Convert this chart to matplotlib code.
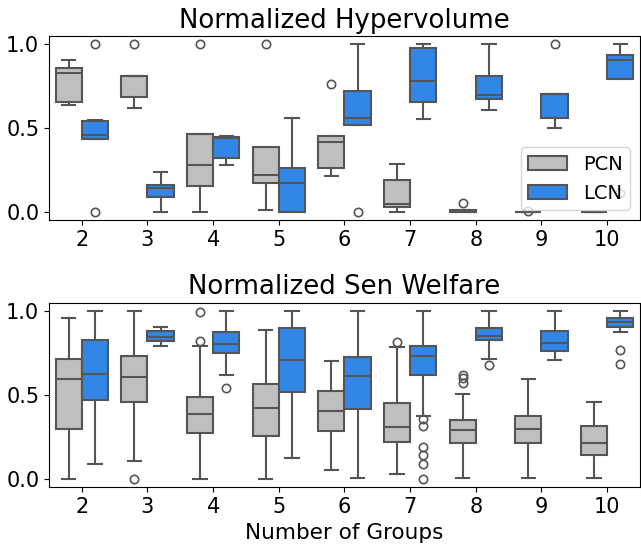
import matplotlib
matplotlib.use("Agg")
import matplotlib.pyplot as plt
from matplotlib.patches import Patch

groups = [2, 3, 4, 5, 6, 7, 8, 9, 10]
methods = ["PCN", "LCN"]
colors = {"PCN": "#bfbfbf", "LCN": "#3287e6"}
edge = "#555555"

# five-number summaries: lo whisker, q1, median, q3, hi whisker
hv_pcn_lo = [0.636, 0.62, 0.0, 0.012, 0.212, 0.0, 0.0, 0.0, 0.0]
hv_pcn_q1 = [0.654, 0.686, 0.154, 0.174, 0.262, 0.026, 0.0, 0.0, 0.0]
hv_pcn_med = [0.826, 0.81, 0.276, 0.222, 0.416, 0.046, 0.0, 0.0, 0.0]
hv_pcn_q3 = [0.86, 0.81, 0.466, 0.386, 0.454, 0.192, 0.01, 0.0, 0.0]
hv_pcn_hi = [0.906, 0.81, 0.466, 0.386, 0.454, 0.286, 0.01, 0.0, 0.0]
hv_pcn_fl = [[], [1.0], [1.0], [1.0], [0.762], [], [0.05], [0.005], []]

hv_lcn_lo = [0.432, 0.0, 0.28, 0.0, 0.518, 0.556, 0.61, 0.498, 0.792]
hv_lcn_q1 = [0.432, 0.086, 0.322, 0.0, 0.518, 0.654, 0.674, 0.558, 0.792]
hv_lcn_med = [0.46, 0.14, 0.442, 0.17, 0.56, 0.778, 0.70, 0.706, 0.906]
hv_lcn_q3 = [0.542, 0.16, 0.446, 0.262, 0.72, 0.976, 0.81, 0.706, 0.936]
hv_lcn_hi = [0.55, 0.234, 0.454, 0.562, 1.0, 1.0, 1.0, 0.706, 1.0]
hv_lcn_fl = [[1.0, 0.0], [], [], [], [0.0], [], [], [1.0], [0.11]]

sw_pcn_lo = [0.0, 0.106, 0.0, 0.0, 0.054, 0.028, 0.004, 0.004, 0.004]
sw_pcn_q1 = [0.3, 0.456, 0.272, 0.256, 0.288, 0.222, 0.212, 0.212, 0.144]
sw_pcn_med = [0.594, 0.61, 0.384, 0.424, 0.406, 0.31, 0.29, 0.3, 0.214]
sw_pcn_q3 = [0.714, 0.732, 0.486, 0.564, 0.522, 0.454, 0.354, 0.376, 0.318]
sw_pcn_hi = [0.956, 1.0, 0.792, 0.89, 0.70, 0.786, 0.506, 0.594, 0.458]
sw_pcn_fl = [[], [0.0], [0.994, 0.824], [], [], [0.814], [0.618, 0.6, 0.574], [], []]

sw_lcn_lo = [0.086, 0.79, 0.622, 0.126, 0.004, 0.376, 0.714, 0.706, 0.874]
sw_lcn_q1 = [0.47, 0.82, 0.75, 0.516, 0.418, 0.622, 0.826, 0.762, 0.908]
sw_lcn_med = [0.626, 0.846, 0.804, 0.706, 0.614, 0.734, 0.854, 0.81, 0.936]
sw_lcn_q3 = [0.826, 0.884, 0.874, 0.902, 0.728, 0.792, 0.902, 0.884, 0.956]
sw_lcn_hi = [1.0, 0.904, 1.0, 1.0, 1.0, 1.0, 1.0, 1.0, 1.0]
sw_lcn_fl = [[], [], [0.54], [], [], [0.356, 0.316, 0.19, 0.14, 0.09, 0.0], [0.678], [], [0.77, 0.682]]


def make_stats(lo, q1, med, q3, hi, fl):
    return [dict(whislo=lo[i], q1=q1[i], med=med[i], q3=q3[i], whishi=hi[i], fliers=fl[i])
            for i in range(len(lo))]


panels = [
    ("Normalized Hypervolume",
     {"PCN": make_stats(hv_pcn_lo, hv_pcn_q1, hv_pcn_med, hv_pcn_q3, hv_pcn_hi, hv_pcn_fl),
      "LCN": make_stats(hv_lcn_lo, hv_lcn_q1, hv_lcn_med, hv_lcn_q3, hv_lcn_hi, hv_lcn_fl)}),
    ("Normalized Sen Welfare",
     {"PCN": make_stats(sw_pcn_lo, sw_pcn_q1, sw_pcn_med, sw_pcn_q3, sw_pcn_hi, sw_pcn_fl),
      "LCN": make_stats(sw_lcn_lo, sw_lcn_q1, sw_lcn_med, sw_lcn_q3, sw_lcn_hi, sw_lcn_fl)}),
]

fig = plt.figure(figsize=(6.41, 5.47), dpi=100)
ax_top = fig.add_axes([0.0764, 0.5978, 0.922, 0.3364])
ax_bot = fig.add_axes([0.0764, 0.1091, 0.922, 0.3375])

for ax, (title, stats) in zip([ax_top, ax_bot], panels):
    for k, m in enumerate(methods):
        offset = -0.2 if k == 0 else 0.2
        pos = [i + offset for i in range(len(groups))]
        ax.bxp(stats[m], positions=pos, widths=0.4, capwidths=0.2, patch_artist=True,
               boxprops=dict(facecolor=colors[m], edgecolor=edge, linewidth=1.5),
               whiskerprops=dict(color=edge, linewidth=1.5),
               capprops=dict(color=edge, linewidth=1.5),
               medianprops=dict(color=edge, linewidth=1.5),
               flierprops=dict(marker="o", markerfacecolor="none", markeredgecolor=edge,
                               markersize=6, markeredgewidth=1.2))
    ax.set_xlim(-0.5, len(groups) - 0.5)
    ax.set_ylim(-0.05, 1.05)
    ax.set_xticks(range(len(groups)))
    ax.set_xticklabels([str(g) for g in groups])
    ax.set_yticks([0.0, 0.5, 1.0])
    ax.tick_params(labelsize=15)
    ax.set_title(title, fontsize=18.7)

ax_bot.set_xlabel("Number of Groups", fontsize=15.5)

handles = [Patch(facecolor=colors[m], edgecolor=edge, linewidth=1.5, label=m) for m in methods]
ax_top.legend(handles=handles, loc="lower right", fontsize=14, framealpha=0.8)

fig.savefig("out.png", dpi=100)
